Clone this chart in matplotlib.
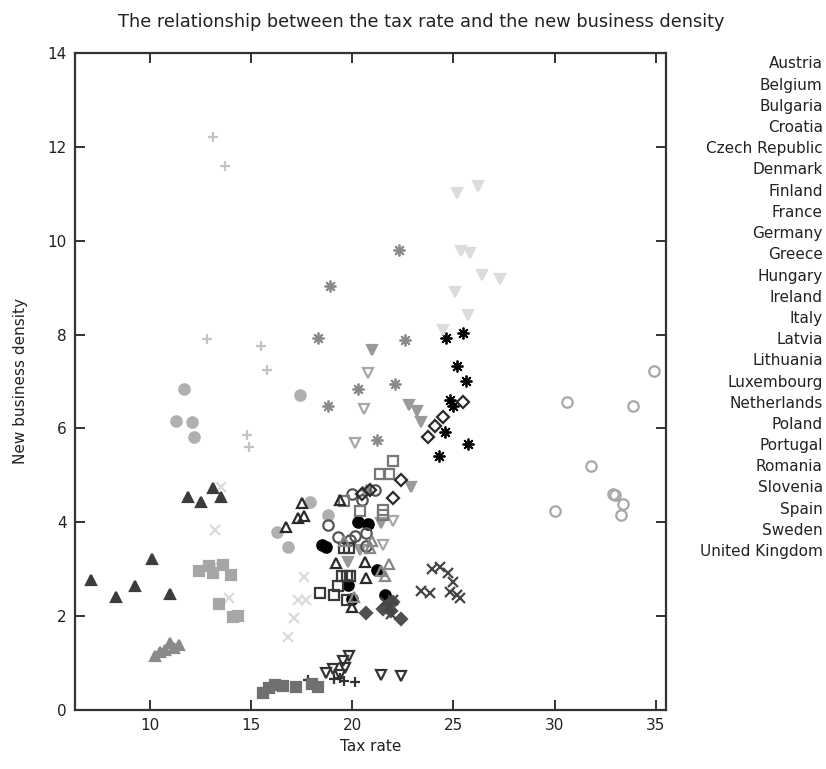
import matplotlib
matplotlib.use("Agg")
import matplotlib.pyplot as plt

# Data (tax rate vs new business density)
countries = ["Austria", "Belgium", "Bulgaria", "Croatia", "Czech Republic",
             "Denmark", "Finland", "France", "Germany", "Greece", "Hungary",
             "Ireland", "Italy", "Latvia", "Lithuania", "Luxembourg",
             "Netherlands", "Poland", "Portugal", "Romania", "Slovenia",
             "Spain", "Sweden", "United Kingdom"]

tax_rate = [
    [13.1, 13.7, 12.8, 15.5, 15.8, 14.8, 14.9],
    [13.5, 13.2, 13.1, 13.9, 17.6, 17.3, 17.7, 17.1, 16.8],
    [22.3, 18.9, 18.3, 22.6, 20.3, 22.1, 18.8, 21.2, 20.7],
    [24.65, 25.5, 25.2, 25.6, 24.85, 25.0, 24.6, 25.7, 24.3],
    [25.2, 26.2, 25.4, 25.8, 26.4, 27.3, 25.1, 25.7, 24.5],
    [21.0, 22.8, 23.2, 23.4, 22.9, 21.4, 20.4, 19.8],
    [20.8, 20.6, 20.15, 22.0, 21.5],
    [19.85, 19.55, 19.65, 19.05, 18.7, 21.4, 22.4, 19.4],
    [17.8, 19.1, 19.4, 19.6, 20.15],
    [15.6, 15.9, 16.2, 16.6, 17.2, 18.0, 18.3],
    [12.4, 12.9, 13.1, 13.6, 14.0, 13.4, 14.1, 14.35],
    [7.1, 8.3, 9.25, 10.1, 11.0, 11.9, 12.5, 13.1, 13.5],
    [10.25, 10.5, 10.75, 11.0, 11.2, 11.45],
    [11.7, 11.3, 12.1, 12.2, 17.4, 17.9, 18.8, 16.3, 16.8],
    [18.5, 18.7, 20.3, 20.8, 21.2, 19.8, 20.0, 21.6],
    [20.7, 21.7, 22.0, 21.9, 22.4, 21.5],
    [23.95, 24.35, 24.75, 25.0, 23.4, 23.85, 24.85, 25.35, 25.2,
     21.6, 21.8, 22.0, 21.9],
    [34.9, 30.6, 33.9, 31.8, 32.9, 33.0, 33.4, 33.3, 30.0],
    [18.8, 19.3, 19.9, 20.15, 20.7, 20.0, 20.5, 21.1, 20.7],
    [22.0, 21.35, 21.8, 21.5, 20.4, 19.6, 21.5],
    [18.4, 19.1, 19.3, 19.5, 19.75, 19.9, 19.6, 19.85, 19.75],
    [17.5, 17.3, 17.6, 16.7, 19.4, 19.2, 20.65, 20.7, 20.0],
    [21.0, 21.8, 21.6, 21.4, 19.6, 20.1, 20.9],
    [25.5, 24.5, 24.1, 23.75, 22.4, 22.0, 20.9, 20.5],
]

density = [
    [12.2, 11.6, 7.9, 7.75, 7.25, 5.85, 5.6],
    [4.75, 3.84, 3.05, 2.39, 2.84, 2.35, 2.35, 1.96, 1.56],
    [9.81, 9.04, 7.93, 7.89, 6.84, 6.95, 6.48, 5.76, 4.69],
    [7.93, 8.04, 7.33, 7.0, 6.61, 6.48, 5.93, 5.67, 5.42],
    [11.02, 11.17, 9.77, 9.74, 9.27, 9.19, 8.91, 8.42, 8.1],
    [7.68, 6.5, 6.36, 6.14, 4.76, 3.99, 3.4, 3.15],
    [7.18, 6.42, 5.69, 4.03, 3.52],
    [1.15, 1.03, 0.9, 0.87, 0.79, 0.75, 0.71, 0.75],
    [0.64, 0.66, 0.68, 0.62, 0.6],
    [0.36, 0.47, 0.53, 0.5, 0.49, 0.56, 0.48],
    [2.96, 3.07, 2.92, 3.09, 2.88, 2.26, 1.98, 2.0],
    [2.77, 2.41, 2.63, 3.22, 2.47, 4.54, 4.44, 4.73, 4.54],
    [1.15, 1.24, 1.28, 1.43, 1.32, 1.38],
    [6.84, 6.16, 6.14, 5.81, 6.7, 4.43, 4.16, 3.8, 3.48],
    [3.52, 3.47, 4.0, 3.97, 2.97, 2.67, 2.37, 2.45],
    [2.07, 2.2, 2.3, 2.1, 1.94, 2.15],
    [3.0, 3.05, 2.91, 2.73, 2.54, 2.49, 2.52, 2.38, 2.45,
     2.3, 2.2, 2.35, 2.05],
    [7.23, 6.57, 6.48, 5.2, 4.6, 4.58, 4.39, 4.16, 4.24],
    [3.94, 3.69, 3.62, 3.7, 3.77, 4.6, 4.48, 4.68, 3.5],
    [5.3, 5.03, 5.03, 4.25, 4.23, 4.45, 4.15],
    [2.5, 2.45, 2.63, 2.85, 2.85, 2.85, 3.45, 3.45, 2.35],
    [4.41, 4.09, 4.14, 3.9, 4.48, 3.13, 3.16, 2.8, 2.2],
    [3.6, 3.1, 2.85, 2.95, 3.6, 2.4, 3.45],
    [6.56, 6.25, 6.04, 5.82, 4.9, 4.52, 4.68, 4.6],
]

# marker, colour, filled
styles = [
    ("+", "#c4c4c4", True), ("x", "#dadada", True), ((8, 2, 0), "#8a8a8a", True),
    ((8, 2, 0), "#000000", True), ("v", "#dcdcdc", True), ("v", "#9a9a9a", True),
    ("v", "#a8a8a8", False), ("v", "#333333", False), ("+", "#333333", True),
    ("s", "#707070", True), ("s", "#a6a6a6", True), ("^", "#3c3c3c", True),
    ("^", "#8a8a8a", True), ("o", "#b0b0b0", True), ("o", "#000000", True),
    ("D", "#505050", True), ("x", "#454545", True), ("o", "#a8a8a8", False),
    ("o", "#555555", False), ("s", "#777777", False), ("s", "#3a3a3a", False),
    ("^", "#2a2a2a", False), ("^", "#888888", False), ("D", "#2a2a2a", False),
]

plt.rcParams["font.family"] = "DejaVu Sans"
fig = plt.figure(figsize=(8.26, 7.69), dpi=100)
ax = fig.add_axes([0.091, 0.077, 0.715, 0.854])

for name, xs, ys, (mk, col, filled) in zip(countries, tax_rate, density, styles):
    ms = 6.5 if mk in ("D", "s") else 7.5
    mew = 1.6
    if isinstance(mk, tuple):
        ms, mew = 8.5, 1.3
    if filled:
        ax.plot(xs, ys, linestyle="none", marker=mk, color=col, ms=ms,
                mew=mew, label=name)
    else:
        ax.plot(xs, ys, linestyle="none", marker=mk, mec=col, mfc="none",
                ms=ms, mew=mew, label=name)

ax.set_xlim(6.3, 35.5)
ax.set_ylim(0, 14)
ax.set_xticks([10, 15, 20, 25, 30, 35])
ax.set_yticks(range(0, 15, 2))
ax.tick_params(direction="in", top=True, right=True, length=7, width=1.3,
               labelsize=11, colors="#222222", pad=6)
for s in ax.spines.values():
    s.set_linewidth(1.6)
    s.set_color("#333333")

ax.set_xlabel("Tax rate", fontsize=11, color="#222222")
ax.set_ylabel("New business density", fontsize=11, color="#222222", labelpad=14)
fig.text(0.51, 0.972, "The relationship between the tax rate and the new business density",
         ha="center", va="center", fontsize=12.8, color="#222222")

# gnuplot-style key: names only, right aligned outside the plot
for i, name in enumerate(countries):
    fig.text(0.996, 1 - (64 + i * 21.2) / 769, name, ha="right", va="center",
             fontsize=11, color="#222222")

fig.savefig("out.png", dpi=100)
